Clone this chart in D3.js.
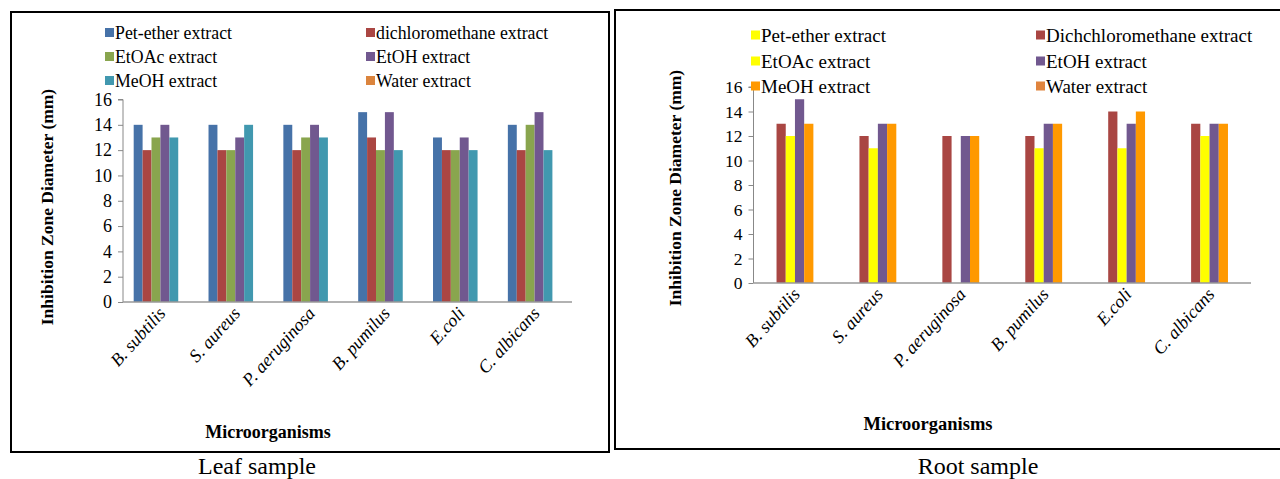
<!DOCTYPE html>
<html><head><meta charset="utf-8">
<script src="https://cdn.jsdelivr.net/npm/d3@7"></script>
<style>body{margin:0;background:#fff;} svg text{font-family:"Liberation Serif","Times New Roman","DejaVu Serif",serif !important;}</style>
</head><body>
<svg id="c" width="1280" height="479"></svg>
<script>
const categories = ["B. subtilis","S. aureus","P. aeruginosa","B. pumilus","E.coli","C. albicans"];
const leafSeries = ["Pet-ether extract","dichloromethane extract","EtOAc extract","EtOH extract","MeOH extract","Water extract"];
const rootSeries = ["Pet-ether extract","Dichchloromethane extract","EtOAc extract","EtOH extract","MeOH extract","Water extract"];
const leafPetEther = [14,14,14,15,13,14];
const leafDCM      = [12,12,12,13,12,12];
const leafEtOAc    = [13,12,13,12,12,14];
const leafEtOH     = [14,13,14,15,13,15];
const leafMeOH     = [13,14,13,12,12,12];
const leafWater    = [0,0,0,0,0,0];
const rootPetEther = [0,0,0,0,0,0];
const rootDCM      = [13,12,12,12,14,13];
const rootEtOAc    = [12,11,0,11,11,12];
const rootEtOH     = [15,13,12,13,13,13];
const rootMeOH     = [13,13,12,13,14,13];
const rootWater    = [0,0,0,0,0,0];
const yTicks = [0,2,4,6,8,10,12,14,16];
const leafColors = ["#4672A8","#AA4643","#89A54E","#71588F","#4198AF","#DB843D"];
const rootColors = ["#FFFF00","#A94643","#FFFF00","#71588F","#FF9900","#E0843D"];

const svg = d3.select("#c");

function drawChart(cfg){
  const g = svg.append("g");
  g.append("rect").attr("x",cfg.box[0]).attr("y",cfg.box[1]).attr("width",cfg.box[2]).attr("height",cfg.box[3])
    .attr("fill","none").attr("stroke","#000").attr("stroke-width",2);
  const x = d3.scaleBand().domain(categories).range([cfg.x0,cfg.x1]).paddingInner(0).paddingOuter(0);
  const y = d3.scaleLinear().domain([0,16]).range([cfg.y0,cfg.y1]);
  const sub = d3.scaleBand().domain(d3.range(cfg.series.length)).range([0,x.bandwidth()]).paddingOuter(cfg.outer).paddingInner(0);
  const ya = g.append("g").attr("transform",`translate(${cfg.x0},0)`).call(d3.axisLeft(y).tickValues(yTicks).tickSize(5).tickPadding(6));
  ya.attr("font-family",null);
  ya.select(".domain").attr("stroke","#888").attr("d",`M-5,${cfg.y1}H0V${cfg.y0}`);
  ya.selectAll(".tick line").attr("stroke","#888");
  ya.selectAll(".tick text").attr("font-size",cfg.tickFs).attr("fill","#000");
  cfg.values.forEach((vals,si)=>{
    g.append("g").selectAll("rect").data(vals).join("rect")
      .attr("x",(d,i)=>x(categories[i])+sub(si))
      .attr("width",sub.bandwidth())
      .attr("y",d=>y(d)).attr("height",d=>y(0)-y(d))
      .attr("fill",cfg.colors[si]);
  });
  g.append("line").attr("x1",cfg.x0).attr("x2",cfg.x1).attr("y1",cfg.y0).attr("y2",cfg.y0).attr("stroke","#999").attr("stroke-width",1.5);
  g.append("g").selectAll("text").data(categories).join("text")
    .attr("transform",d=>`translate(${x(d)+x.bandwidth()/2+cfg.lblDx},${cfg.y0+cfg.lblDy}) rotate(-48)`)
    .attr("text-anchor","end").attr("font-style","italic").attr("font-size",18).text(d=>d);
  cfg.series.forEach((s,i)=>{
    const col = i%2, row = Math.floor(i/2);
    const lx = cfg.legX[col], ly = cfg.legY[row];
    g.append("rect").attr("x",lx).attr("y",ly-11).attr("width",9).attr("height",9).attr("fill",cfg.colors[i]);
    g.append("text").attr("x",lx+10).attr("y",ly).attr("font-size",cfg.legFs).text(s);
  });
  g.append("text").attr("transform",`translate(${cfg.ytX},${cfg.ytY}) rotate(-90)`).attr("text-anchor","middle")
    .attr("font-weight","bold").attr("font-size",17.5).text("Inhibition Zone Diameter (mm)");
  g.append("text").attr("x",cfg.xtX).attr("y",cfg.xtY).attr("text-anchor","middle").attr("font-weight","bold").attr("font-size",cfg.xtFs).text("Microorganisms");
  g.append("text").attr("x",cfg.capX).attr("y",474).attr("text-anchor","middle").attr("font-size",24).text(cfg.caption);
}

drawChart({
  box:[11,12,598,440], x0:123, x1:572, y0:302, y1:99.5,
  series:leafSeries, colors:leafColors,
  values:[leafPetEther,leafDCM,leafEtOAc,leafEtOH,leafMeOH,leafWater],
  outer:1.2, lblDx:6, lblDy:12, tickFs:18, legFs:17.8, xtFs:18,
  legX:[105,366], legY:[39,63,87],
  ytX:53, ytY:207, xtX:268, xtY:438, capX:257, caption:"Leaf sample"
});
drawChart({
  box:[615,10,668,439], x0:753.5, x1:1251, y0:283, y1:87,
  series:rootSeries, colors:rootColors,
  values:[rootPetEther,rootDCM,rootEtOAc,rootEtOH,rootMeOH,rootWater],
  outer:1.5, lblDx:6, lblDy:12, tickFs:17.5, legFs:19, xtFs:18.5,
  legX:[751,1036], legY:[41.5,67.5,92.5],
  ytX:681, ytY:188, xtX:928, xtY:430, capX:978, caption:"Root sample"
});
</script>
</body></html>
